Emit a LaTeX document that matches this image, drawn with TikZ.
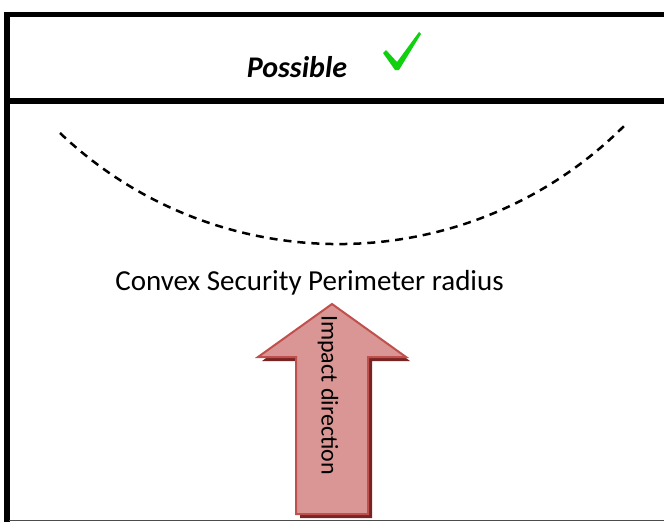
\documentclass[tikz,border=0pt]{standalone}
\usepackage{fontspec}
\setmainfont{Carlito}
\definecolor{arrowfill}{RGB}{217,150,148}
\definecolor{arrowline}{RGB}{192,80,77}
\definecolor{arrowshadow}{RGB}{120,36,34}
\definecolor{checkgreen}{RGB}{16,208,16}
\tikzset{
  frameline/.style={line width=5.5pt, black},
  perim/.style={line width=2.5pt, dash pattern=on 8pt off 6pt},
  lbl/.style={inner sep=0pt, anchor=base},
}
\begin{document}
\begin{tikzpicture}[x=1pt,y=-1pt]
\useasboundingbox (0,0) rectangle (664,522);
\clip (0,0) rectangle (664,522);
% frame
\draw[frameline] (7,522) -- (7,14.5) -- (670,14.5);
\draw[frameline] (7,101) -- (670,101);
\draw[line width=1.5pt, black!70] (9,520.5) -- (670,520.5);
% title
\node[lbl, font=\fontsize{30}{34}\selectfont\bfseries\itshape] (title) at (297,77) {Possible};
\fill[checkgreen] (383,53) -- (386,50) -- (397,62) -- (419,32) -- (421,34) -- (399,70) -- (395,70) -- cycle;
% perimeter arc
\draw[perim] (60,133) arc[start angle=226.5, end angle=315.5, radius=404.5pt];
\node[lbl, font=\fontsize{29}{33}\selectfont] (conv) at (309.5,290) {Convex Security Perimeter radius};
% arrow shadow
\fill[arrowshadow] (336,308) -- (410,361) -- (372,361) -- (372,518) -- (300,518) -- (300,361) -- (262,361) -- cycle;
% arrow
\draw[line width=2pt, arrowline, fill=arrowfill, line join=miter] (332,304) -- (406,357) -- (368,357) -- (368,514) -- (296,514) -- (296,357) -- (258,357) -- cycle;
\node[inner sep=0pt, rotate=-90, font=\fontsize{24}{28}\selectfont] (impact) at (328,395) {Impact direction};
\end{tikzpicture}
\end{document}
